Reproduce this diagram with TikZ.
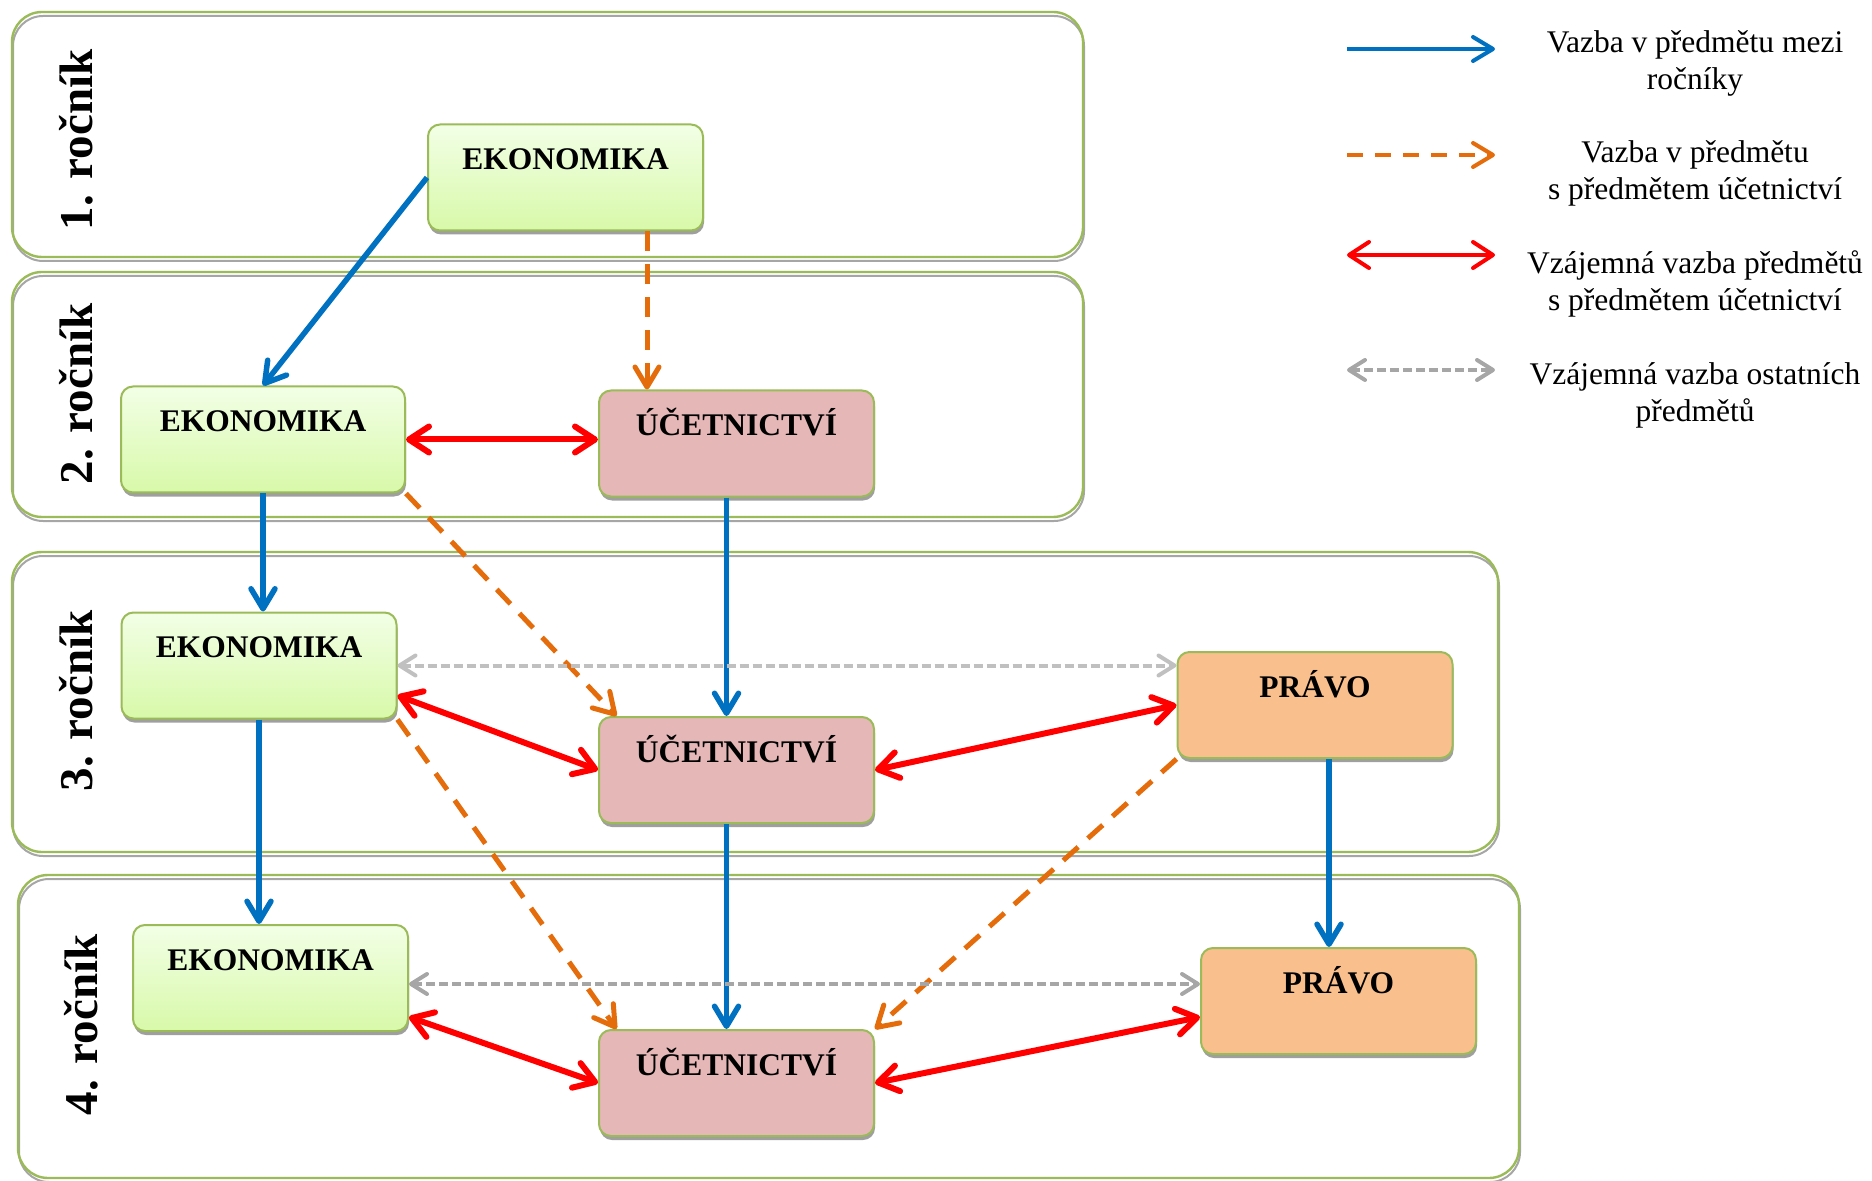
\documentclass[tikz,border=0pt]{standalone}
\usepackage{fontspec}
\setmainfont{Liberation Serif}
\usetikzlibrary{arrows.meta,shadows}

\definecolor{modra}{HTML}{0070C0}
\definecolor{oranzova}{HTML}{E46C0A}
\definecolor{cervena}{HTML}{FF0000}
\definecolor{sediva}{HTML}{A6A6A6}
\definecolor{svetlesediva}{HTML}{C0C0C0}
\definecolor{zelena}{HTML}{9BBB59}
\definecolor{ekonhore}{HTML}{F2FFE6}
\definecolor{ekondole}{HTML}{D8F9A9}
\definecolor{ucetfill}{HTML}{E5B8B7}
\definecolor{pravofill}{HTML}{F9C08E}

\begin{document}
\begin{tikzpicture}[x=0.5pt,y=-0.5pt,
  predmet/.style={draw=zelena, line width=1pt, rounded corners=6pt,
    minimum width=137.5pt, inner ysep=0pt, text height=22.5pt, text depth=30.5pt,
    font=\fontsize{15.75}{18}\selectfont\bfseries,
    general shadow={fill=gray!75, shadow yshift=-2pt, shadow xshift=0.5pt}},
  ekon/.style={predmet, top color=ekonhore, bottom color=ekondole},
  ucet/.style={predmet, fill=ucetfill},
  pravo/.style={predmet, fill=pravofill},
  rocnik/.style={rotate=90, font=\fontsize{23.5}{26}\selectfont\bfseries},
  legenda/.style={align=center, font=\fontsize{15.75}{18.5}\selectfont},
  mezi/.style={draw=modra, line width=2.75pt, -{Straight Barb[round, length=10pt, width=12pt]}},
  ucetni/.style={draw=oranzova, line width=2.5pt, dash pattern=on 10pt off 6.5pt,
    -{Straight Barb[round, length=10pt, width=12pt]}},
  vzajem/.style={draw=cervena, line width=3pt,
    {Straight Barb[round, length=10pt, width=13pt]}-{Straight Barb[round, length=10pt, width=13pt]}},
  ostatni/.style={draw=sediva, line width=2pt, dash pattern=on 4.5pt off 2pt,
    {Straight Barb[round, length=8pt, width=10pt]}-{Straight Barb[round, length=8pt, width=10pt]}},
  vlegende/.style={line width=2pt}
]
\useasboundingbox (0,0) rectangle (1872,1181);

% The year frames
\foreach \xa/\ya/\xb/\yb in {12/12/1083/257, 12/272/1083/517, 12/552/1498/852, 18/875/1519/1178}
{
  \draw[gray!70, line width=1pt, rounded corners=15pt] (\xa+1,\ya+4) rectangle (\xb+1,\yb+4);
  \draw[zelena, line width=1.2pt, rounded corners=15pt] (\xa,\ya) rectangle (\xb,\yb);
}

% Year labels
\node[rocnik] (r1) at (76,140) {1. ročník};
\node[rocnik] (r2) at (76,394) {2. ročník};
\node[rocnik] (r3) at (76,701) {3. ročník};
\node[rocnik] (r4) at (81,1025) {4. ročník};

% Subjects
\node[ekon] (E1) at (565.5,177.5) {EKONOMIKA};
\node[ekon, minimum width=142pt] (E2) at (263,439.5) {EKONOMIKA};
\node[ucet] (U2) at (736.5,443.5) {ÚČETNICTVÍ};
\node[ekon] (E3) at (259,665.5) {EKONOMIKA};
\node[ucet] (U3) at (736.5,770) {ÚČETNICTVÍ};
\node[pravo] (P3) at (1315,705) {PRÁVO};
\node[ekon] (E4) at (270.5,978) {EKONOMIKA};
\node[ucet] (U4) at (736.5,1083) {ÚČETNICTVÍ};
\node[pravo] (P4) at (1338.5,1001) {PRÁVO};

% Links between years
\draw[mezi] (E1.west) -- (E2.north);
\draw[mezi] (E2.south) -- (E2.south |- E3.north);
\draw[mezi] (E3.south) -- (E3.south |- E4.north);
\draw[mezi] ([xshift=-5pt]U2.south) -- ([xshift=-5pt]U3.north);
\draw[mezi] ([xshift=-5pt]U3.south) -- ([xshift=-5pt]U4.north);
\draw[mezi] ([xshift=7pt]P3.south) -- ([xshift=7pt]P3.south |- P4.north);

% Links to accounting
\draw[ucetni] ([xshift=-44.75pt]U2.north |- E1.south) -- ([xshift=-44.75pt]U2.north);
\draw[ucetni] (E2.south east) -- ([xshift=-60pt]U3.north);
\draw[ucetni] (E3.south east) -- ([xshift=-60pt]U4.north);
\draw[ucetni] (P3.south west) -- (U4.north east);

% Mutual links with accounting
\draw[vzajem] (E2.east) -- (E2.east -| U2.west);
\draw[vzajem] ([yshift=-15pt]E3.east) -- (U3.west);
\draw[vzajem] (U3.east) -- (P3.west);
\draw[vzajem] ([yshift=-19.5pt]E4.east) -- (U4.west);
\draw[vzajem] (U4.east) -- ([yshift=-8pt]P4.west);

% Mutual links of the others
\draw[ostatni, draw=svetlesediva] (E3.east) -- (E3.east -| P3.west);
\draw[ostatni] ([yshift=-3pt]E4.east) -- ([yshift=-3pt]E4.east -| P4.west);

% Legend
\coordinate (l1a) at (1347,49);  \coordinate (l1b) at (1495,49);
\coordinate (l2a) at (1347,155); \coordinate (l2b) at (1495,155);
\coordinate (l3a) at (1347,255); \coordinate (l3b) at (1495,255);
\coordinate (l4a) at (1347,370); \coordinate (l4b) at (1495,370);
\draw[mezi, vlegende] (l1a) -- (l1b);
\draw[ucetni, vlegende, dash pattern=on 8pt off 6pt] (l2a) -- (l2b);
\draw[vzajem, vlegende] (l3a) -- (l3b);
\draw[ostatni] (l4a) -- (l4b);
\node[legenda] (t1) at (1695,63.5) {Vazba v předmětu mezi\\ročníky};
\node[legenda] (t2) at (1695,173.5) {Vazba v předmětu\\s předmětem účetnictví};
\node[legenda] (t3) at (1695,283.5) {Vzájemná vazba předmětů\\s předmětem účetnictví};
\node[legenda] (t4) at (1695,395.5) {Vzájemná vazba ostatních\\předmětů};

\end{tikzpicture}
\end{document}
